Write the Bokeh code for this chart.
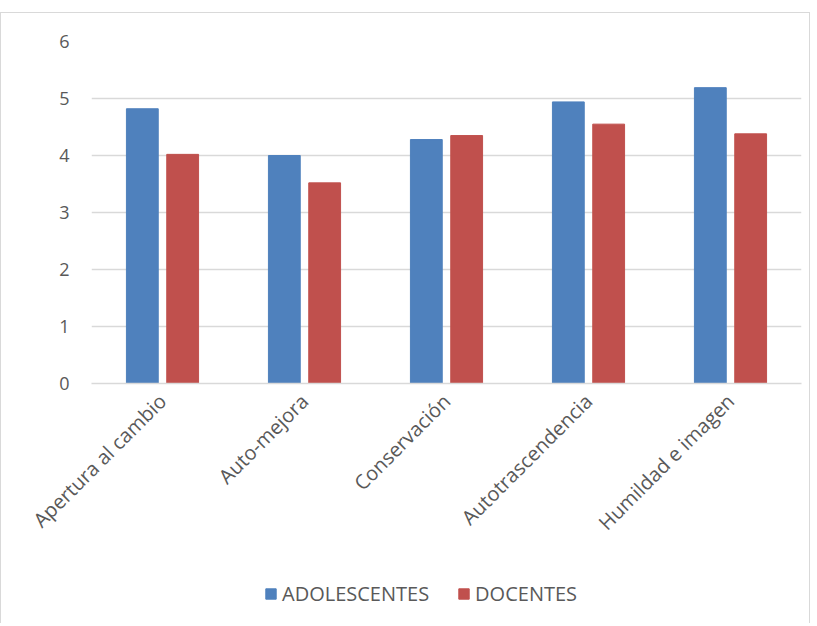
from math import pi
from bokeh.plotting import figure
from bokeh.layouts import column
from bokeh.models import ColumnDataSource, Legend, LegendItem, FactorRange, Spacer
from bokeh.transform import dodge
from bokeh.embed import file_html
from bokeh.resources import INLINE

categories = ["Apertura al cambio", "Auto-mejora", "Conservación", "Autotrascendencia", "Humildad e imagen"]
adolescentes = [4.82, 4.00, 4.28, 4.94, 5.19]
docentes = [4.02, 3.52, 4.35, 4.55, 4.38]
series_names = ["ADOLESCENTES", "DOCENTES"]
yticks = [0, 1, 2, 3, 4, 5, 6]

FONT = "Open Sans"
TXT = "#595959"
BLUE = "#4F81BD"
RED = "#C0504D"

src = ColumnDataSource(dict(cat=categories, a=adolescentes, d=docentes))

# main chart
p = figure(x_range=FactorRange(*categories), y_range=(0, 6),
           width=808, height=540, output_backend="svg", toolbar_location=None,
           min_border_left=90, min_border_right=8, min_border_top=28, min_border_bottom=170)
p.outline_line_color = None
p.background_fill_color = "white"
p.border_fill_color = "white"

p.vbar(x=dodge("cat", -0.142, range=p.x_range), top="a", width=0.224, source=src,
       fill_color=BLUE, line_color=BLUE)
p.vbar(x=dodge("cat", 0.142, range=p.x_range), top="d", width=0.224, source=src,
       fill_color=RED, line_color=RED)

p.xgrid.grid_line_color = None
p.ygrid.grid_line_color = "#d9d9d9"
p.ygrid.grid_line_width = 1.5
p.yaxis.ticker = yticks
p.yaxis.axis_line_color = None
p.yaxis.major_tick_line_color = None
p.yaxis.minor_tick_line_color = None
p.yaxis.major_label_text_font = FONT
p.yaxis.major_label_text_font_size = "18px"
p.yaxis.major_label_text_color = TXT
p.yaxis.major_label_standoff = 16

p.xaxis.axis_line_color = "#d9d9d9"
p.xaxis.axis_line_width = 1.5
p.xaxis.major_tick_line_color = None
p.xaxis.minor_tick_line_color = None
p.xaxis.major_label_orientation = pi / 4
p.xaxis.major_label_text_font = FONT
p.xaxis.major_label_text_font_size = "20px"
p.xaxis.major_label_text_color = TXT
p.xaxis.major_label_standoff = 8

# legend strip (same series, drawn out of view so only the legend shows)
lg = figure(x_range=FactorRange(*categories), y_range=(100, 101),
            width=808, height=70, output_backend="svg", toolbar_location=None,
            min_border=0)
lg.outline_line_color = None
lg.axis.visible = False
lg.grid.grid_line_color = None
lg.border_fill_color = "white"
l1 = lg.vbar(x="cat", top="a", width=0.224, source=src, fill_color=BLUE, line_color=BLUE)
l2 = lg.vbar(x="cat", top="d", width=0.224, source=src, fill_color=RED, line_color=RED)

legend = Legend(items=[LegendItem(label=series_names[0], renderers=[l1]),
                       LegendItem(label=series_names[1], renderers=[l2])],
                location=(173, 16), orientation="horizontal",
                label_text_font=FONT, label_text_font_size="20px", label_text_color=TXT,
                glyph_width=13, glyph_height=13, spacing=28, label_standoff=5,
                border_line_color=None, background_fill_alpha=0, padding=0, margin=0)
lg.add_layout(legend, "center")

inner = column(p, lg, spacing=0,
               styles={"border-top": "1px solid #d9d9d9", "border-left": "1px solid #d9d9d9",
                       "border-right": "1px solid #d9d9d9", "background-color": "white"})
layout = column(Spacer(height=12, width=808), inner, spacing=0)

open("out.html", "w").write(file_html(layout, INLINE))
